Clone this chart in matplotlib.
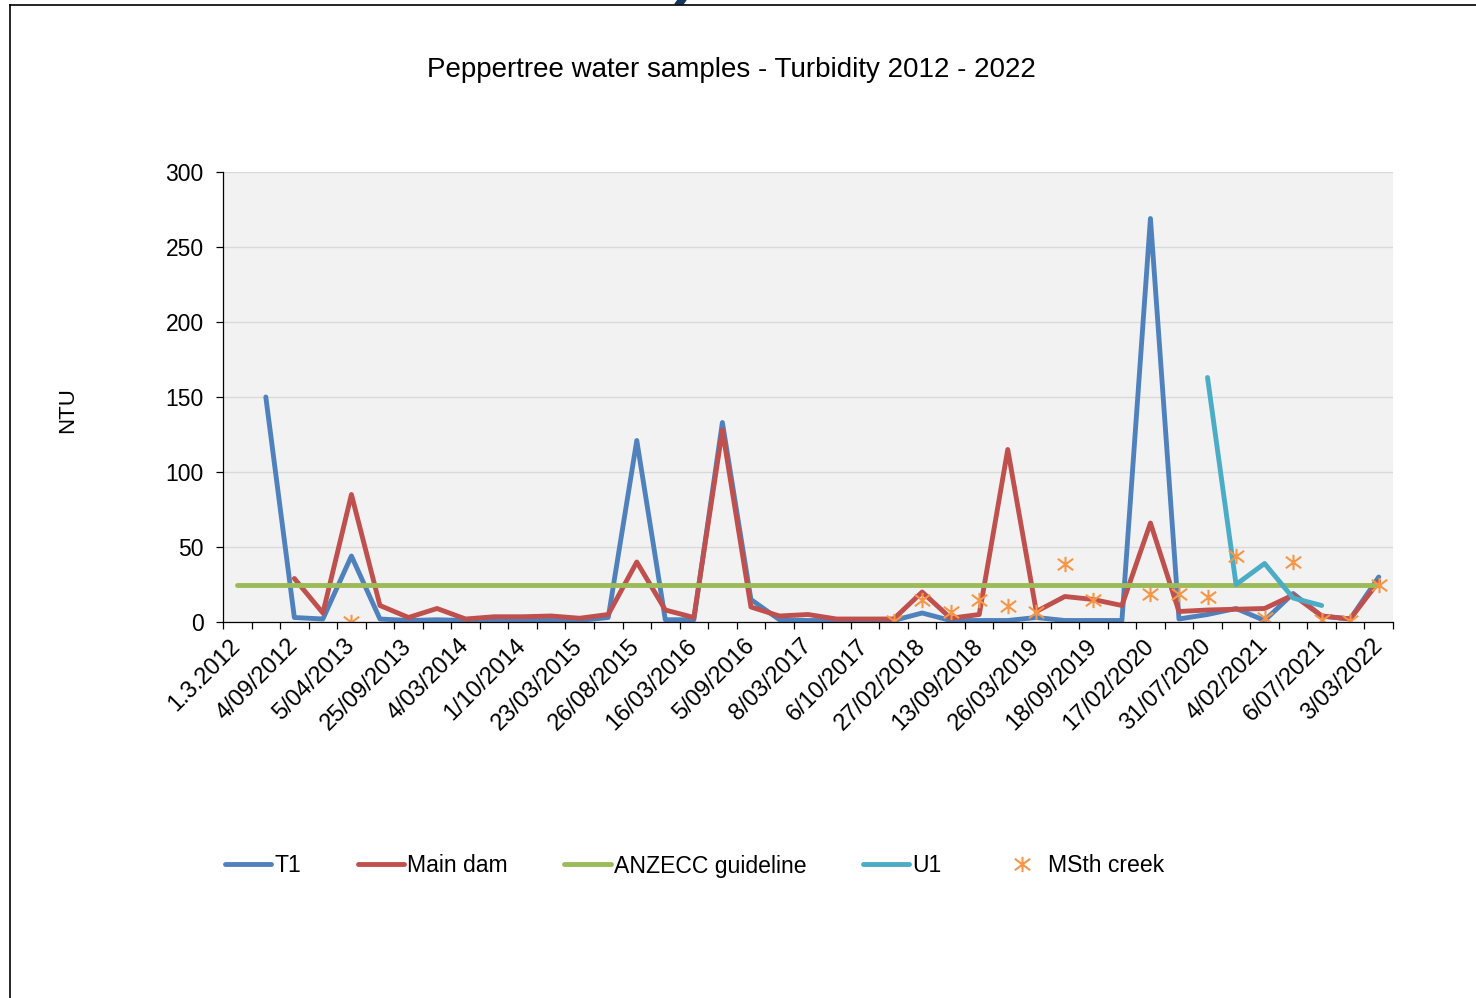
import numpy as np
import matplotlib
matplotlib.use("Agg")
import matplotlib.pyplot as plt
from matplotlib.path import Path
from matplotlib.lines import Line2D
from matplotlib.patches import Polygon

plt.rcParams['font.family'] = ['Liberation Sans', 'DejaVu Sans']

# ---------------- data ----------------
tick_labels = ["1.3.2012", "4/09/2012", "5/04/2013", "25/09/2013", "4/03/2014",
               "1/10/2014", "23/03/2015", "26/08/2015", "16/03/2016", "5/09/2016",
               "8/03/2017", "6/10/2017", "27/02/2018", "13/09/2018", "26/03/2019",
               "18/09/2019", "17/02/2020", "31/07/2020", "4/02/2021", "6/07/2021",
               "3/03/2022"]
n_categories = 41          # one sample date per category; every second one labelled

t1 = [None, 150, 3, 2, 44, 2, 1, 1.5, 1, 1, 1, 1, 1, 3, 121, 1.5, 1.5, 133, 15, 1.5,
      1, 1, 1, 1, 6, 1, 1, 1, 3, 1, 1, 1, 269, 2, 5, 9, 1, 19, 4, 2, 30]
main_dam = [None, None, 29, 6, 85, 11, 3, 9, 2, 3.5, 3.5, 4, 2.5, 5, 40, 8, 3, 128, 10, 4,
            5, 2, 2, 2, 20, 2.5, 5, 115, 7, 17, 15, 11, 66, 7, 8, 8.5, 9, 18, 4, 2, 27]
anzecc = [25] * 41
u1 = [None] * 34 + [163, 25, 39, 16, 11] + [None, None]
msth = [None, None, None, None, 0, None, None, None, None, None,
        None, None, None, None, None, None, None, None, None, None,
        None, None, None, 1, 15, 7, 15, 11, 7, 39,
        15, None, 19, 19, 17, 44, 3, 40, 1.5, 1, 25]

series_names = ["T1", "Main dam", "ANZECC guideline", "U1", "MSth creek"]

def arr(v):
    return np.array([np.nan if x is None else x for x in v], dtype=float)

x = np.arange(n_categories)

# ---------------- figure ----------------
W, H = 1476, 998
fig = plt.figure(figsize=(W / 100, H / 100), dpi=100)
ax = fig.add_axes([223 / W, 1 - 622 / H, (1393 - 223) / W, (622 - 172) / H])
ax.set_facecolor('#F2F2F2')

lw = 3.5
kw = dict(solid_capstyle='round', solid_joinstyle='round', lw=lw)
ax.plot(x, arr(t1), color='#4F81BD', label=series_names[0], **kw)
ax.plot(x, arr(main_dam), color='#C0504D', label=series_names[1], **kw)
ax.plot(x, arr(anzecc), color='#9BBB59', label=series_names[2], **kw)
ax.plot(x, arr(u1), color='#4BACC6', label=series_names[3], **kw)

star = Path([(-1, -0.75), (1, 0.75), (-1, 0.75), (1, -0.75), (0, -1), (0, 1)],
            [Path.MOVETO, Path.LINETO, Path.MOVETO, Path.LINETO, Path.MOVETO, Path.LINETO])
ax.plot(x, arr(msth), ls='none', marker=star, markersize=11, mew=1.5,
        color='#F79646', mec='#F79646', label=series_names[4])

ax.set_xlim(-0.5, n_categories - 0.5)
ax.set_ylim(0, 300)
ax.set_yticks(np.arange(0, 301, 50))
ax.yaxis.grid(True, color='#D9D9D9', lw=1.0)
ax.set_axisbelow(True)

ax.set_xticks(x[::2])
ax.set_xticklabels(tick_labels, rotation=45, ha='right', va='center',
                   rotation_mode='anchor')
ax.set_xticks(np.arange(-0.5, n_categories, 1), minor=True)
ax.tick_params(axis='x', which='major', length=0, pad=15, labelsize=17, colors='black')
ax.tick_params(axis='x', which='minor', length=5, width=0.9, direction='out', color='black')
ax.tick_params(axis='y', length=5, width=0.9, direction='out', pad=9, labelsize=16.5,
               colors='black')

for s in ['top', 'right']:
    ax.spines[s].set_visible(False)
for s in ['left', 'bottom']:
    ax.spines[s].set_color('black')
    ax.spines[s].set_linewidth(0.9)

fig.text(731 / W, 1 - 70 / H, "Peppertree water samples - Turbidity 2012 - 2022",
         ha='center', va='center', fontsize=20)
fig.text(68 / W, 1 - 410 / H, "NTU", rotation=90, ha='center', va='center', fontsize=16)

leg = fig.legend(loc='center left', bbox_to_anchor=(225 / W, 1 - 866 / H), ncol=5,
                 frameon=False, fontsize=16.6, handlelength=2.0, handletextpad=0.15,
                 columnspacing=2.45, borderpad=0, borderaxespad=0)

# frame lines of the screenshot
fig.add_artist(Line2D([10 / W, 10 / W], [0, 1 - 4.5 / H], transform=fig.transFigure,
                      color='black', lw=1.2))
fig.add_artist(Line2D([10 / W, 1], [1 - 4.5 / H, 1 - 4.5 / H], transform=fig.transFigure,
                      color='black', lw=1.2))
fig.add_artist(Polygon([(678 / W, 1), (686 / W, 1), (683 / W, 1 - 4 / H), (675 / W, 1 - 4 / H)],
                       closed=True, transform=fig.transFigure, color='#17365D'))

fig.savefig("out.png", dpi=100)
